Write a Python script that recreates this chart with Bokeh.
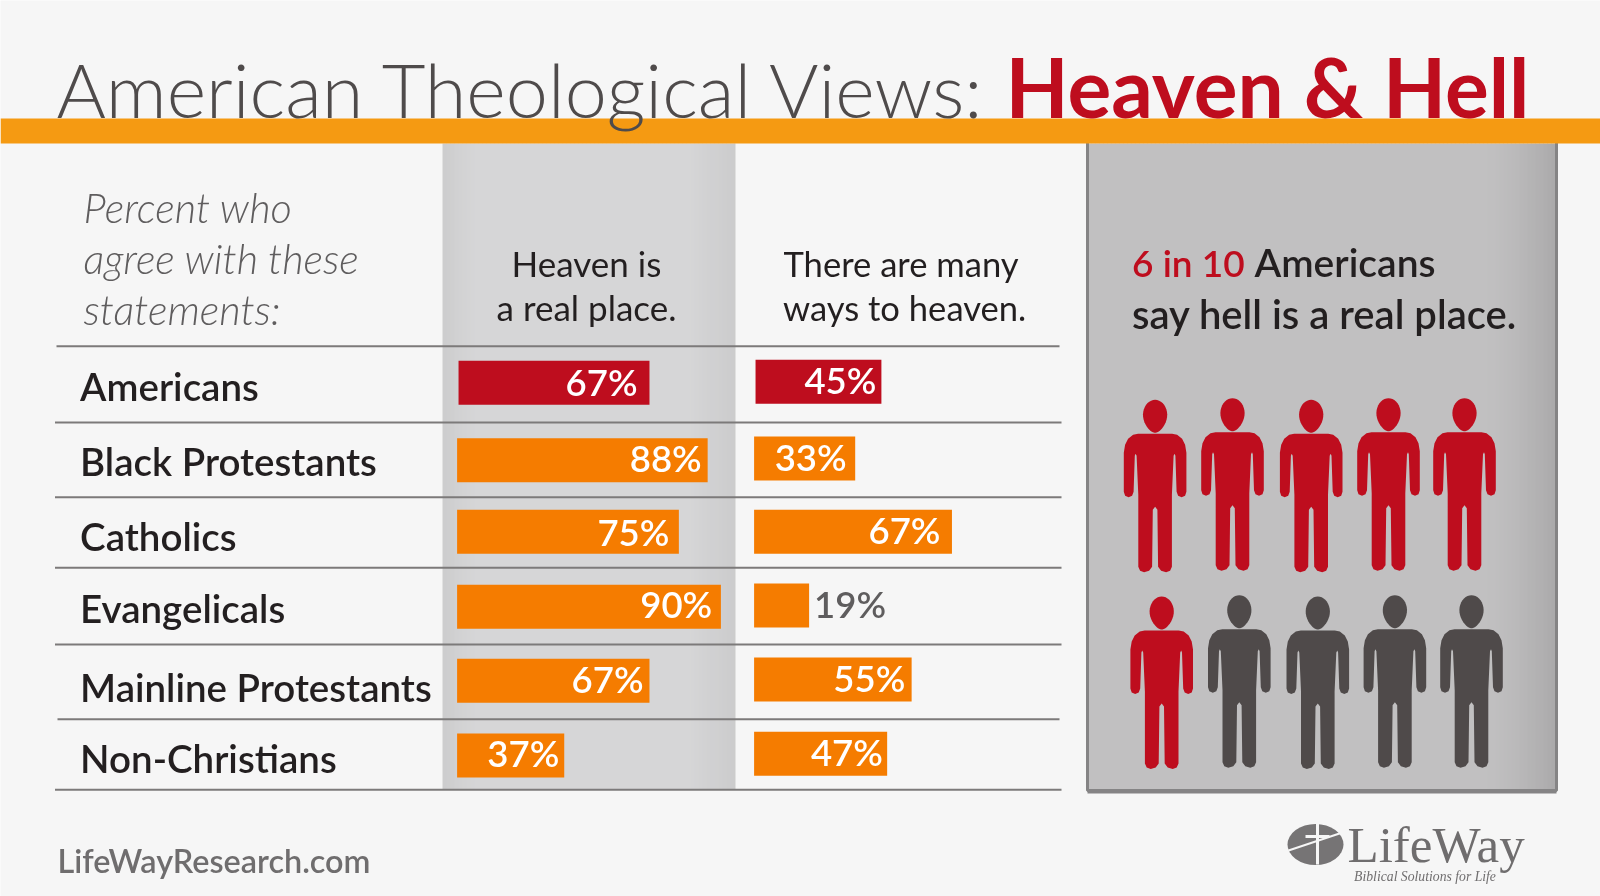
from bokeh.plotting import figure
from bokeh.embed import file_html
from bokeh.resources import INLINE
from bokeh.core.properties import value
from bokeh.models import Range1d
import numpy as np

groups = ["Americans", "Black Protestants", "Catholics", "Evangelicals", "Mainline Protestants", "Non-Christians"]
heaven_real = [67, 88, 75, 90, 67, 37]
many_ways = [45, 33, 67, 19, 55, 47]
# bar ends as drawn in the picture (the printed bars stray a little from their labels)
heaven_start = [0.5, 0, 0, 0, 0, 0]
heaven_end = [66.8, 87.0, 77.0, 91.6, 66.8, 37.2]
ways_start = [0.5, 0, 0, 0, 0, 0]
ways_end = [44.2, 35.1, 68.7, 19.1, 54.7, 46.2]
people_total = 10
people_red = 6

RED = "#be0d1e"; ORANGE = "#f57c00"; BAND = "#f59a12"; DARK = "#231f20"; GREY = "#4f4b4b"; BG = "#f6f6f6"
BODY = "Lato"
K = 0.41   # svg text sits this fraction of its size below the requested baseline
W, H = 1600, 896
p = figure(width=W, height=H, x_range=Range1d(0, W), y_range=Range1d(H, 0), output_backend="svg",
           toolbar_location=None, x_axis_type=None, y_axis_type=None, min_border=0,
           background_fill_color=BG, border_fill_color=BG, outline_line_color=None)
p.grid.visible = False
p.styles = {"position": "fixed", "left": "0px", "top": "0px"}

PX_PER_PCT = 2.88
COL1_LEFT, COL2_LEFT = 456.6, 753.6
p.extra_x_ranges["col1"] = Range1d(-COL1_LEFT / PX_PER_PCT, (W - COL1_LEFT) / PX_PER_PCT)
p.extra_x_ranges["col2"] = Range1d(-COL2_LEFT / PX_PER_PCT, (W - COL2_LEFT) / PX_PER_PCT)

def hex2(c): return "#%02x%02x%02x" % tuple(int(round(v)) for v in c)

# shaded column
x0, x1, y0, y1 = 442, 735, 143, 789
xs = np.arange(x0, x1, 4)
xe = np.minimum(xs + 4.5, x1)
cols = []
for x in xs:
    d = 214 - max(0, 1 - (x - x0) / 30) * 9 - max(0, 1 - (x1 - x) / 50) * 11
    cols.append(hex2((d, d, d + 1)))
p.quad(left=xs, right=xe, top=y0, bottom=y1, fill_color=cols, line_color=None)

# side panel
x0, x1, y0, y1 = 1087, 1556, 143, 791
xs = np.arange(x0, x1, 4)
xe = np.minimum(xs + 4.5, x1)
cols = []
for x in xs:
    d = 193 - max(0, 1 - (x1 - x) / 75) ** 1.5 * 24
    cols.append(hex2((d, d - 1, d)))
p.quad(left=xs, right=xe, top=y0, bottom=y1, fill_color=cols, line_color=None)
p.quad(left=[x0], right=[x1], top=[y0 - 2], bottom=[y1 - 1], fill_color=None, line_color="#858485", line_width=3)
p.segment(x0=[x0], x1=[x1], y0=[y1], y1=[y1], line_color="#858485", line_width=4)

# orange band
p.quad(left=[0], right=[W], top=[118], bottom=[143], fill_color=BAND, line_color=None)

# row rules
rule_y = [345.7, 422, 496.7, 567.3, 644, 718.7, 789.3]
rule_l = [56, 54.5, 54.5, 54.5, 54.5, 57, 54.5]
rule_r = [1059, 1061, 1061, 1061, 1061, 1059, 1061]
p.segment(x0=rule_l, x1=rule_r, y0=rule_y, y1=rule_y, line_color="#7c7a7a", line_width=2)

# bars
c1_top = [360.3, 437.7, 509.3, 584.3, 658.3, 733]
c2_top = [359.3, 436, 509.3, 583, 657, 731.3]
BAR_H = 44
fills = [RED] + [ORANGE] * 5
p.quad(left=heaven_start, right=heaven_end, top=c1_top, bottom=[t + BAR_H for t in c1_top], fill_color=fills, line_color=None, x_range_name="col1")
p.quad(left=ways_start, right=ways_end, top=c2_top, bottom=[t + BAR_H for t in c2_top], fill_color=fills, line_color=None, x_range_name="col2")

LBL = 36.5
LBL_FONT = "Lato Semibold"
LO = -K * LBL
c1_base = [396, 472, 546, 618.7, 693, 767]
c2_base = [394.3, 471.3, 544, 618.7, 692.7, 766.7]
c1_off = [-12, -6, -9.5, -8.7, -6, -5]
c2_off = [-5, -8.6, -11.5, 5, -6.4, -4.3]
p.text(x=heaven_end, y=c1_base, text=[f"{v}%" for v in heaven_real], x_offset=c1_off, y_offset=LO, text_align="right",
       text_baseline="alphabetic", text_color="white", text_font=value(LBL_FONT), text_font_size=f"{LBL}px", x_range_name="col1")
inside = [i for i, v in enumerate(many_ways) if v >= 25]
outside = [i for i, v in enumerate(many_ways) if v < 25]
p.text(x=[ways_end[i] for i in inside], y=[c2_base[i] for i in inside], text=[f"{many_ways[i]}%" for i in inside],
       x_offset=[c2_off[i] for i in inside], y_offset=LO, text_align="right", text_baseline="alphabetic", text_color="white",
       text_font=value(LBL_FONT), text_font_size=f"{LBL}px", x_range_name="col2")
p.text(x=[ways_end[i] for i in outside], y=[c2_base[i] for i in outside], text=[f"{many_ways[i]}%" for i in outside],
       x_offset=[c2_off[i] for i in outside], y_offset=LO, text_align="left", text_baseline="alphabetic", text_color="#5f5d5e",
       text_font=value(LBL_FONT), text_font_size=f"{LBL}px", x_range_name="col2")

def txt(x, y, s, size, color, font=BODY, style="normal", align="left", k=K):
    p.text(x=[x], y=[y], text=[s], text_font=value(font), text_font_size=f"{size}px", text_color=color,
           text_font_style=style, text_align=align, text_baseline="alphabetic", y_offset=-k * size)

# row labels
label_y = [401, 476, 551, 623, 702, 773]
for s, y in zip(groups, label_y):
    txt(79.6, y, s, 38.5, DARK, font="Lato Semibold")

# titles
txt(56, 119, "American Theological Views:", 75.6, GREY, font="Lato Light")
txt(1005, 119, "Heaven & Hell", 82, RED, font="Lato", style="bold")

# headers
for y, s in zip([224, 275, 326], ["Percent who", "agree with these", "statements:"]):
    txt(83, y, s, 41.5, "#5f5d5e", font="Lato Light", style="italic")
txt(586, 277, "Heaven is", 35, DARK, align="center")
txt(586, 321, "a real place.", 35, DARK, align="center")
txt(783, 277, "There are many", 34.6, DARK)
txt(782.5, 321, "ways to heaven.", 34.6, DARK)

# panel text
txt(1131.5, 277, "6 in 10", 37, RED, font="Lato Semibold")
txt(1254, 277, "Americans", 39, DARK, font="Lato Semibold")
txt(1131.5, 330, "say hell is a real place.", 40, DARK, font="Lato Semibold")

# footer
txt(57, 873, "LifeWayResearch.com", 32.4, "#6f6d6e", font="Lato Semibold")

# people
right = [(0, 34), (17, 34), (22, 35), (27, 39), (30, 45), (31.3, 53), (31.3, 92), (30, 96), (26.5, 97.5), (23, 96), (21.5, 92),
         (20.3, 56), (19.5, 54), (18.5, 56), (16.8, 95), (16.8, 167), (15, 171), (11, 172.5), (6, 171), (3, 167),
         (2.3, 110), (0, 107)]
bx = np.array([q[0] for q in right] + [-q[0] for q in right[::-1]])
by = np.array([q[1] for q in right] + [q[1] for q in right[::-1]])
t = np.linspace(0, 2 * np.pi, 40)
hx = 12.5 * np.sin(t) * (1 - 0.28 * ((1 - np.cos(t)) / 2) ** 3)
hy = 16.5 * (1 - np.cos(t))
row1_x = [1154.6, 1232, 1310.7, 1388, 1464]
row1_y = [399.3, 397.7, 399.3, 397.7, 397.7]
row2_x = [1161.2, 1238.8, 1317.3, 1394.4, 1471]
row2_y = [596, 594.7, 596, 594.7, 594.7]
for i, (cx, ty) in enumerate(zip(row1_x + row2_x, row1_y + row2_y)):
    c = RED if i < people_red else "#4f4a4a"
    p.patch(cx + bx, ty + by, fill_color=c, line_color=None)
    p.patch(cx + hx, ty + hy, fill_color=c, line_color=None)

# logo
p.ellipse(x=[1315], y=[844], width=56, height=41, fill_color="#767475", line_color=None)
p.segment(x0=[1317, 1305], x1=[1317, 1329], y0=[823, 836], y1=[864, 836], line_color=BG, line_width=3)
p.segment(x0=[1288], x1=[1342], y0=[850], y1=[832], line_color=BG, line_width=2)
txt(1347, 864, "LifeWay", 51, "#6f6d6e", font="Liberation Serif", k=0.38)
txt(1353.6, 881, "Biblical Solutions for Life", 13.7, "#6f6d6e", font="Liberation Serif", style="italic", k=0.38)

open("out.html", "w").write(file_html(p, INLINE))
